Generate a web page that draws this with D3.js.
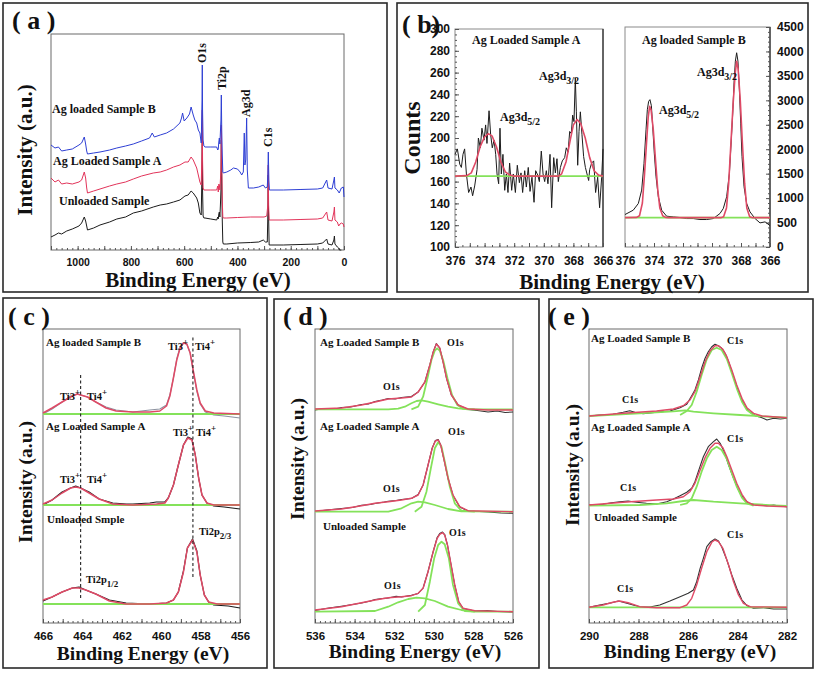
<!DOCTYPE html>
<html><head><meta charset="utf-8">
<script src="https://cdn.jsdelivr.net/npm/d3@7"></script>
<style>body{margin:0;background:#fff}</style>
</head><body>
<script>
// ---------------- DATA ----------------
// (a) survey spectra: [binding energy eV, intensity a.u.]
const aUnloaded = [[1100,13],[1085,15],[1072,17],[1060,16],[1041,19],[1020,21],[995,24],[985,27],[975,33],[970,29],[966,24],[963,20],[940,22],[916,25],[880,28],[853,31],[820,33],[791,37],[760,39],[716,43],[690,45],[666,46],[640,48],[616,50],[597,54],[585,55],[574,59],[566,57],[553,52],[547,47],[541,37],[536,35],[533,80],[532,120],[531,60],[529,34],[526,32],[522,32],[500,31],[478,30],[474,33],[472,31],[470,36],[468,38],[466,33],[464,45],[462,60],[460.6,110],[459,70],[457,30],[455,8],[453,6],[440,6],[400,7],[350,7.5],[320,8],[303,10],[295,8],[288,8],[285.5,40],[284.5,75],[283.5,40],[281,5],[228,5],[165,5.5],[100,6],[80,7],[65,11],[60,6],[45,5],[38,10],[36,14],[34,6],[25,3],[20,2],[17,0],[10,0]];
const aSampleA = [[1100,72],[1085,68],[1072,70],[1060,66],[1041,67],[1020,66],[995,68],[985,70],[975,78],[970,72],[966,62],[963,57],[940,59],[916,61],[880,64],[853,66],[820,68],[791,71],[760,74],[716,77],[690,78],[666,80],[640,83],[616,85],[597,88],[585,88],[574,93],[566,90],[553,82],[547,75],[541,68],[536,65],[533,100],[532,140],[531,90],[529,62],[526,60],[522,60],[500,60],[478,60],[474,64],[472,58],[470,66],[468,65],[466,60],[464,70],[462,80],[460.6,125],[459,90],[457,50],[455,33],[453,32],[440,32],[400,32.5],[350,33],[300,33],[290,34],[286,45],[284.5,85],[283,45],[281,30],[228,30],[165,30.5],[100,31],[80,32],[65,38],[60,30],[45,29],[38,38],[36,43],[34,30],[25,28],[20,24],[15,26],[10,27],[2.5,26],[0,23]];
const aSampleB = [[1100,105],[1085,102],[1072,103],[1060,99],[1041,100],[1020,101],[995,105],[985,107],[975,113],[970,106],[966,99],[963,96],[940,97],[916,98],[880,100],[853,102],[820,104],[791,106],[760,109],[730,112],[720,117],[712,113],[690,115],[666,117],[640,121],[616,127],[610,132],[606,137],[600,129],[590,132],[580,136],[574,143],[566,135],[560,130],[553,127],[547,120],[541,117],[536,107],[533,150],[532,185],[531,140],[529,110],[526,104],[522,103],[500,103],[478,103],[474,100],[472,101],[470,108],[468,112],[466,106],[464,118],[462,130],[460.6,155],[459,120],[457,95],[455,78],[453,77],[440,78],[425,80],[415,82],[400,81],[390,78],[384,75],[378,78],[376,100],[374.4,117],[372,85],[369,90],[365.5,132],[363,80],[359,62],[340,62],[320,63],[303,65],[295,62],[288,63],[286,75],[284.1,98],[282,70],[280,60],[228,60],[165,60.5],[100,61],[80,62],[65,70],[60,62],[45,61],[38,70],[36,73],[34,62],[25,60],[18,57],[10,62],[2.5,63],[0,53]];
const aTicks = [1000,800,600,400,200,0];
const aPeakLabels = [["O1s",532],["Ti2p",459],["Ag3d",368],["C1s",285]];

// (b) Ag3d region: [eV, counts]
const bA_raw = [[376,185],[375.84,190],[375.68,176],[375.57,173],[375.46,185],[375.35,190],[375.23,167],[375.08,150],[374.92,155],[374.81,147],[374.67,156],[374.51,171],[374.42,200],[374.29,191],[374.18,209],[374.04,198],[373.93,212],[373.84,195],[373.7,225],[373.59,203],[373.48,191],[373.36,198],[373.25,185],[373.16,167],[373.05,158],[372.96,209],[372.87,167],[372.76,185],[372.64,152],[372.53,167],[372.42,150],[372.31,177],[372.17,152],[372.06,167],[371.92,150],[371.79,175],[371.65,159],[371.54,168],[371.43,150],[371.29,170],[371.18,155],[371.05,173],[370.93,151],[370.8,164],[370.66,141],[370.55,170],[370.41,166],[370.3,160],[370.17,188],[370.05,167],[369.94,160],[369.83,170],[369.72,158],[369.58,185],[369.47,136],[369.33,182],[369.22,168],[369.11,181],[369.02,160],[368.88,173],[368.75,179],[368.59,182],[368.48,191],[368.36,187],[368.25,206],[368.14,204],[368.05,221],[367.96,215],[367.87,255],[367.8,224],[367.71,175],[367.62,206],[367.53,224],[367.42,203],[367.31,183],[367.19,173],[367.08,167],[366.97,161],[366.9,171],[366.77,177],[366.63,179],[366.5,150],[366.36,164],[366.23,136],[366.09,164],[366,190]];
const bA_fit = [[376,165],[375.2,165.5],[374.9,168],[374.6,178],[374.3,192],[374.0,201],[373.75,204],[373.5,202],[373.2,192],[372.9,178],[372.6,169],[372.3,166],[372,165],[369,165],[368.8,167],[368.5,178],[368.2,199],[368.0,212],[367.75,217],[367.5,213],[367.2,200],[366.9,182],[366.6,170],[366.3,166],[366,165]];
const bA_base = [[376,165],[366,165]];
const bB_raw = [[376,664],[375.43,753],[375.08,890],[374.85,1164],[374.69,1712],[374.55,2397],[374.46,2808],[374.37,2979],[374.28,3014],[374.18,2890],[374.09,2466],[373.98,1918],[373.86,1438],[373.7,1027],[373.47,753],[373.13,630],[372.67,616],[372.21,603],[371.75,582],[371.29,582],[370.83,562],[370.37,562],[369.91,582],[369.45,685],[369.22,788],[368.99,1027],[368.8,1507],[368.67,2192],[368.57,2740],[368.48,3356],[368.39,3801],[368.3,3973],[368.21,3801],[368.11,3219],[368.02,2534],[367.93,1849],[367.79,1233],[367.61,890],[367.38,719],[367.03,582],[366.69,493],[366.34,514],[366,438]];
const bB_fit = [[376,600],[375.2,605],[375.0,640],[374.8,900],[374.65,1500],[374.5,2200],[374.4,2650],[374.3,2880],[374.2,2800],[374.05,2400],[373.9,1800],[373.75,1200],[373.6,800],[373.4,640],[373.2,605],[373,600],[369.4,600],[369.2,620],[369.0,800],[368.85,1300],[368.7,2100],[368.55,2900],[368.4,3550],[368.3,3800],[368.2,3650],[368.05,3000],[367.9,2100],[367.75,1300],[367.6,800],[367.4,620],[367.2,600],[366,600]];
const bB_base = [[376,600],[366,600]];
const bATicks = [300,280,260,240,220,200,180,160,140,120,100];
const bBTicks = [4500,4000,3500,3000,2500,2000,1500,1000,500,0];
const bXTicks = [376,374,372,370,368,366];

// (c) Ti2p region
const cB_raw = [[466,209],[465.54,214],[465.03,221],[464.6,227],[464.26,229],[463.74,226],[463.32,221],[462.8,216],[462.29,213],[461.44,211],[460.58,213],[460.07,214],[459.73,218],[459.56,228],[459.38,245],[459.21,264],[459.04,276],[458.87,280],[458.7,279],[458.53,270],[458.36,250],[458.19,232],[458.02,219],[457.76,211],[457.33,208],[456.8,207],[456,205]];
const cB_fit = [[466,210],[465.54,215],[465.03,221],[464.6,226],[464.26,229],[463.74,226],[463.32,221],[462.8,215],[462.29,212],[461.44,211],[460.58,211],[460.07,212],[459.73,217],[459.56,227],[459.38,245],[459.21,263],[459.04,275],[458.87,280],[458.7,279],[458.53,270],[458.36,251],[458.19,233],[458.02,220],[457.76,212],[457.33,210],[456,209]];
const cB_base = [[466,209],[456,209]];
const cA_raw = [[466,118],[465.54,123],[465.03,131],[464.6,135],[464.34,137],[464.09,135],[463.66,131],[463.15,124],[462.46,120],[461.78,119],[461.44,119],[460.58,120],[460.24,121],[459.81,121],[459.64,125],[459.38,138],[459.13,158],[458.87,178],[458.65,186],[458.44,184],[458.27,168],[458.1,145],[457.93,128],[457.68,120],[457.33,117],[456.8,116],[456,114]];
const cA_fit = [[466,119],[465.54,123],[465.03,130],[464.6,135],[464.34,136],[464.09,135],[463.66,130],[463.15,124],[462.46,119],[461.44,118],[460.24,119],[459.81,120],[459.64,125],[459.38,138],[459.13,158],[458.87,178],[458.65,185],[458.44,183],[458.27,168],[458.1,145],[457.93,128],[457.68,120],[457.33,118],[456,118]];
const cA_base = [[466,118],[456,118]];
const cU_raw = [[466,22],[465.54,26],[465.03,31],[464.51,35],[464.17,36],[463.83,33],[463.32,29],[462.63,23],[461.78,20],[460.58,19],[459.73,20],[459.38,23],[459.13,31],[458.87,52],[458.67,75],[458.41,84],[458.19,72],[458.02,48],[457.81,28],[457.59,21],[457.33,18],[456.6,17],[456,15]];
const cU_fit = [[466,23],[465.54,26],[465.03,31],[464.51,35],[464.17,35],[463.83,33],[463.32,29],[462.63,22],[461.78,19],[460.58,19],[459.73,20],[459.38,23],[459.13,31],[458.87,51],[458.67,75],[458.41,83],[458.19,71],[458.02,48],[457.81,28],[457.59,21],[457.16,19],[456,19]];
const cU_base = [[466,19],[456,19]];
const cDashes = [[464.09,25,250],[458.39,46,288]];
const cXTicks = [466,464,462,460,458,456];

// (d) O1s region
const dB_raw = [[536,213],[535.5,214.5],[535,214],[534.66,215.5],[534.2,216],[533.65,218.5],[533.3,219],[532.97,221.5],[532.6,223],[532.3,224.5],[531.95,224],[531.63,225.5],[531.13,226.5],[530.79,231],[530.45,241],[530.2,258],[530.03,271],[529.87,279.5],[529.7,275],[529.53,261],[529.36,245],[529.11,228],[528.77,218],[528.27,213.5],[527.8,212.5],[527.26,211],[526.8,212],[526.4,210.5],[526,211]];
const dB_fit = [[536,214],[534.66,215],[533.65,218],[532.97,221],[532.3,224],[531.63,225],[531.13,226],[530.79,231],[530.45,241],[530.2,258],[530.03,271],[529.87,279],[529.7,275],[529.53,261],[529.36,245],[529.11,228],[528.77,218],[528.27,214],[527.26,213],[526,213]];
const dB_c1 = [[536,213.7],[532.3,213.7],[531.8,214.3],[531.46,216.3],[531.13,219.7],[530.87,222],[530.62,222.7],[530.29,221.3],[529.78,218.7],[529.28,216.3],[528.77,214.7],[528.27,213.7],[526,213.7]];
const dB_c2 = [[531.13,213.7],[530.79,216.3],[530.54,226.3],[530.32,244.7],[530.12,263],[529.95,272.3],[529.83,274.7],[529.7,272.3],[529.53,263],[529.31,244.7],[529.08,228],[528.81,218],[528.52,214.3],[527.93,213.7]];
const dA_raw = [[536,111.5],[535.4,113],[534.66,114.5],[534.1,115.5],[533.65,117.8],[533.2,118.5],[532.97,119.5],[532.5,121],[532.3,121.8],[531.9,122.5],[531.63,123.5],[531.13,124.5],[530.79,128.5],[530.54,138],[530.29,158],[530.08,175],[529.92,182.5],[529.78,183.5],[529.65,178],[529.48,163],[529.28,144.5],[529.03,127.5],[528.69,116],[528.27,112],[527.7,111.5],[527.26,111],[526.6,110],[526,109.7]];
const dA_fit = [[536,112],[534.66,114],[533.65,117.3],[532.97,119.7],[532.3,121.3],[531.63,123],[531.13,124.7],[530.79,128],[530.54,138],[530.29,158],[530.08,174.7],[529.92,182],[529.78,183],[529.65,178],[529.48,163],[529.28,144.7],[529.03,128],[528.69,116.3],[528.27,112.3],[526,111.3]];
const dA_c1 = [[536,111.3],[532.3,111.3],[531.63,114.7],[531.13,119.7],[530.79,121.3],[530.45,120.7],[529.95,118],[529.28,114],[528.61,111.7],[526,111.3]];
const dA_c2 = [[530.96,111.3],[530.62,116.3],[530.37,131.3],[530.15,154.7],[529.95,174.7],[529.78,180.7],[529.61,176.3],[529.41,158],[529.19,136.3],[528.94,119.7],[528.61,112.3],[527.93,111.3]];
const dU_raw = [[536,12.5],[535.3,15],[534.66,16.8],[534.1,18.5],[533.65,20],[533.2,22],[532.97,23.5],[532.6,24.5],[532.3,25],[531.9,26.8],[531.63,26],[531.13,27.8],[530.79,29.5],[530.54,35],[530.29,51.5],[530.03,71.5],[529.83,85.5],[529.7,89.5],[529.56,91],[529.45,88.5],[529.31,78],[529.14,59.5],[528.94,37.5],[528.74,21],[528.52,14.5],[527.93,12],[527.3,12.5],[526.8,11.5],[526,11]];
const dU_fit = [[536,13],[534.66,16.3],[533.65,20.3],[532.97,23],[532.3,25.3],[531.63,26.3],[531.13,27.3],[530.79,29.7],[530.54,34.7],[530.29,51.3],[530.03,71.3],[529.83,84.7],[529.7,88.7],[529.56,90.3],[529.45,88],[529.31,78],[529.14,59.7],[528.94,38],[528.74,21.3],[528.52,14.7],[527.93,12.3],[526,11.3]];
const dU_c1 = [[536,11.3],[532.97,12],[532.3,16.3],[531.8,20.7],[531.29,24],[530.87,25.3],[530.45,24.7],[529.95,22],[529.28,16.3],[528.61,13],[527.93,11.3],[526,11.3]];
const dU_c2 = [[530.79,11.3],[530.45,18],[530.2,41.3],[529.98,64.7],[529.78,78],[529.61,81.3],[529.45,78.7],[529.24,64.7],[529.03,38],[528.77,19.7],[528.44,12],[527.93,11.3]];
const dXTicks = [536,534,532,530,528,526];

// (e) C1s region
const eB_raw = [[290,207],[289.57,208],[289.03,208.7],[288.62,210.7],[288.35,212.3],[288.15,210.7],[287.81,209.3],[287.27,210.7],[286.73,212],[286.32,215.3],[286.05,218.7],[285.85,227.3],[285.72,233],[285.58,243],[285.45,254.7],[285.31,264.7],[285.18,271.3],[285.04,276.3],[284.91,278.7],[284.77,277.3],[284.64,274.7],[284.5,269.7],[284.36,261.3],[284.16,246.3],[283.96,231.3],[283.76,219.7],[283.55,212],[283.28,207.3],[283.01,205.3],[282.81,203],[282.54,204.7],[282.27,204],[282,204.7]];
const eB_fit = [[290,207],[288.62,209.7],[287.27,212],[286.59,214],[286.19,217.3],[285.92,223],[285.72,231.3],[285.51,246.3],[285.31,261.3],[285.11,272],[284.91,277.3],[284.77,277.3],[284.59,273.7],[284.43,266.3],[284.23,253],[284.03,238],[283.82,224.7],[283.62,215.3],[283.35,209.7],[283.01,207],[282,205.3]];
const eB_c1 = [[290,207],[287.95,209.7],[286.59,211.7],[286.12,212.7],[285.78,211.3],[284.97,209.7],[283.89,208],[282.54,206],[282,205.3]];
const eB_c2 = [[286.32,208],[286.05,212],[285.85,218],[285.65,231.3],[285.45,248],[285.24,264],[285.04,273],[284.84,275.3],[284.64,273],[284.43,264],[284.23,249.7],[284.03,234.7],[283.82,221.3],[283.62,213],[283.35,208],[283.08,206]];
const eA_raw = [[290,118],[289.43,118.7],[289.09,120.3],[288.76,121.3],[288.42,122],[288.08,120.7],[287.68,119.7],[287.27,119],[286.86,121.3],[286.59,124],[286.32,127.3],[286.05,130.7],[285.85,134.7],[285.72,141.3],[285.54,154.7],[285.38,166.3],[285.18,176.3],[284.97,181.3],[284.84,184],[284.7,179.7],[284.54,171.3],[284.36,158],[284.16,144.7],[283.96,133],[283.76,124.7],[283.55,119.7],[283.22,118],[282.81,117.3],[282.54,118],[282.27,116.7],[282,116.3]];
const eA_fit = [[290,118],[288.62,120.7],[287.27,123],[286.59,124],[286.19,126.3],[285.92,131.3],[285.72,139.7],[285.51,153],[285.31,165.3],[285.11,174.7],[284.91,179.7],[284.77,179.7],[284.59,175.3],[284.43,166.3],[284.23,153],[284.03,139.7],[283.82,128.7],[283.62,121.3],[283.35,118],[282.81,117],[282,116.3]];
const eA_c1 = [[290,117.3],[287.95,118],[286.86,119.7],[286.19,122],[285.78,123],[284.97,121.3],[283.89,119.7],[282.54,117.7],[282,117]];
const eA_c2 = [[286.32,118],[286.05,119.7],[285.85,124.7],[285.65,136.3],[285.45,151.3],[285.24,164.7],[285.04,173],[284.84,176.3],[284.64,173],[284.43,164],[284.23,149.7],[284.03,136.3],[283.82,125.3],[283.62,119.7],[283.35,117.3]];
const eU_raw = [[290,15.7],[289.57,18],[289.09,20.3],[288.82,22],[288.62,20.7],[288.22,18],[287.95,16.3],[287.54,16],[287.14,18],[286.73,22],[286.32,26.3],[285.99,29.7],[285.78,33],[285.65,41.3],[285.51,54.7],[285.38,64.7],[285.24,76.3],[285.08,81.3],[284.91,84],[284.77,82],[284.64,76.3],[284.43,63],[284.23,48],[284.03,34.7],[283.82,23],[283.62,17.3],[283.35,14.7],[282.95,15.3],[282.54,14],[282,14]];
const eU_fit = [[290,15.7],[289.43,18],[289.03,20.7],[288.76,22],[288.42,20.3],[287.95,16.3],[287.27,15.3],[286.32,15.3],[286.05,18],[285.85,24.7],[285.65,38],[285.45,54.7],[285.24,71.3],[285.04,80.7],[284.91,83],[284.77,81.3],[284.59,74.7],[284.36,58],[284.16,41.3],[283.96,28],[283.76,19.7],[283.49,16.3],[282,15.7]];
const eU_base = [[290,15.7],[282,15.7]];
const eXTicks = [290,288,286,284,282];

// ---------------- DRAWING ----------------
const SERIF = "Liberation Serif, Times New Roman, DejaVu Serif, serif";
const SANS = "Liberation Sans, Arial, sans-serif";
const BLUE = "#2e3fd4", RED = "#e2345a", FIT = "#df4a66", GREEN = "#84e25a", BLACK = "#1c1c1c";

const svg = d3.select("body").append("svg").attr("width",817).attr("height",673)
  .attr("font-family",SERIF);
svg.append("rect").attr("width",817).attr("height",673).attr("fill","#fff");

function frame(x0,y0,x1,y1){
  svg.append("rect").attr("x",x0).attr("y",y0).attr("width",x1-x0).attr("height",y1-y0)
    .attr("fill","none").attr("stroke","#2a2a2a").attr("stroke-width",1.6);
}
function box(x,y,color){
  const xr=x.range(), yr=y.range();
  svg.append("rect").attr("x",Math.min(...xr)).attr("y",Math.min(...yr))
    .attr("width",Math.abs(xr[1]-xr[0])).attr("height",Math.abs(yr[1]-yr[0]))
    .attr("fill","none").attr("stroke",color||"#707070").attr("stroke-width",1);
}
function styleAxis(g,fs){
  g.select(".domain").remove();
  g.attr("font-family",SANS).attr("font-size",fs).attr("font-weight","bold");
  g.selectAll("line").attr("stroke","#555");
  g.selectAll("text").attr("fill","#111");
}
function xAxis(x,yPos,minors,majors,labels,fs,pad){
  styleAxis(svg.append("g").attr("transform",`translate(0,${yPos})`)
    .call(d3.axisBottom(x).tickValues(minors).tickSize(-2).tickFormat("")),fs);
  styleAxis(svg.append("g").attr("transform",`translate(0,${yPos})`)
    .call(d3.axisBottom(x).tickValues(majors).tickSize(-4).tickFormat("")),fs);
  styleAxis(svg.append("g").attr("transform",`translate(0,${yPos})`)
    .call(d3.axisBottom(x).tickValues(labels).tickSize(0).tickPadding(pad).tickFormat(d3.format("d"))),fs);
}
function range(a,b,s){const r=[];for(let v=a;v<=b+1e-9;v+=s)r.push(+v.toFixed(4));return r;}
function line(data,x,y,color,w){
  svg.append("path").datum(data).attr("fill","none").attr("stroke",color)
    .attr("stroke-width",w).attr("stroke-linejoin","round")
    .attr("d",d3.line().x(d=>x(d[0])).y(d=>y(d[1])));
}
function text(x,y,s,fs,opt={}){
  return svg.append("text").attr("x",x).attr("y",y).text(s)
    .attr("font-family",SERIF)
    .attr("font-size",fs).attr("font-weight","bold").attr("fill","#111")
    .attr("text-anchor",opt.anchor||"start");
}
function scriptText(x,y,main,script,fs,sfs,dy){
  const t=svg.append("text").attr("x",x).attr("y",y).attr("font-size",fs)
    .attr("font-family",SERIF).attr("font-weight","bold").attr("fill","#111");
  t.append("tspan").text(main);
  t.append("tspan").attr("dy",dy).attr("font-size",sfs).text(script);
}
function vText(cx,cy,s,fs,anchor){
  svg.append("text").attr("transform",`translate(${cx+fs*0.34},${cy}) rotate(-90)`)
    .attr("font-family",SERIF)
    .attr("text-anchor",anchor||"middle").attr("font-size",fs).attr("font-weight","bold")
    .attr("fill","#111").text(s);
}

// ---- frames
frame(3,3,387,292);
frame(397,3,808,292);
frame(3,298,267,668);
frame(274,299,539,668);
frame(549,299,813,668);

// ---- panel (a)
{
  const x=d3.scaleLinear().domain([1100,0]).range([51,344]);
  const y=d3.scaleLinear().domain([0,216]).range([250,34]);
  box(x,y,"#6a6a6a");
  xAxis(x,250,range(0,1100,20),range(0,1100,100),aTicks,10.5,9);
  line(aUnloaded,x,y,BLACK,1);
  line(aSampleA,x,y,RED,1);
  line(aSampleB,x,y,BLUE,1);
  text(12,29,"( a )",26);
  vText(25,150,"Intensity (a.u.)",21);
  text(198,287,"Binding Energy (eV)",21,{anchor:"middle"});
  text(52,113,"Ag loaded Sample B",12);
  text(53,165,"Ag Loaded Sample A",12);
  text(59,205,"Unloaded Sample",12);
  const yTop={O1s:63,Ti2p:90,Ag3d:117,C1s:147};
  aPeakLabels.forEach(([s,e])=>vText(x(e),yTop[s],s,12,"start"));
}

// ---- panel (b)
{
  const x1=d3.scaleLinear().domain([376,366]).range([455,603]);
  const y1=d3.scaleLinear().domain([100,300]).range([247,29]);
  const x2=d3.scaleLinear().domain([376,366]).range([625,770]);
  const y2=d3.scaleLinear().domain([0,4500]).range([247,27]);
  box(x1,y1,"#8a8a8a"); box(x2,y2,"#8a8a8a");
  svg.append("line").attr("x1",603).attr("x2",603).attr("y1",29).attr("y2",247).attr("stroke","#444").attr("stroke-width",1.5);
  svg.append("line").attr("x1",770).attr("x2",770).attr("y1",27).attr("y2",247).attr("stroke","#444").attr("stroke-width",1.5);
  xAxis(x1,247,range(366,376,0.5),range(366,376,1),bXTicks,12,9);
  xAxis(x2,247,range(366,376,0.5),range(366,376,1),bXTicks,12,9);
  styleAxis(svg.append("g").attr("transform","translate(455,0)")
    .call(d3.axisLeft(y1).tickValues(range(100,300,5)).tickSize(-2).tickFormat("")),12);
  styleAxis(svg.append("g").attr("transform","translate(455,0)")
    .call(d3.axisLeft(y1).tickValues(bATicks).tickSize(-4).tickPadding(5).tickFormat(d3.format("d"))),12);
  styleAxis(svg.append("g").attr("transform","translate(770,0)")
    .call(d3.axisRight(y2).tickValues(range(0,4500,100)).tickSize(-2).tickFormat("")),12);
  styleAxis(svg.append("g").attr("transform","translate(770,0)")
    .call(d3.axisRight(y2).tickValues(bBTicks).tickSize(-4).tickPadding(7).tickFormat(d3.format("d"))),12);
  line(bA_raw,x1,y1,BLACK,1);
  line(bA_base,x1,y1,GREEN,1.8);
  line(bA_fit,x1,y1,FIT,1.6);
  line(bB_raw,x2,y2,BLACK,1);
  line(bB_base,x2,y2,GREEN,1.8);
  line(bB_fit,x2,y2,FIT,1.6);
  text(402,33,"( b)",26);
  text(472,44,"Ag Loaded Sample A",12);
  text(642,44,"Ag loaded Sample B",12);
  scriptText(500,121,"Ag3d","5/2",12,10,4);
  scriptText(539,80,"Ag3d","3/2",12,10,4);
  scriptText(659,114,"Ag3d","5/2",12,10,4);
  scriptText(697,76,"Ag3d","3/2",12,10,4);
  vText(412,138,"Counts",24);
  text(612,289,"Binding Energy (eV)",21,{anchor:"middle"});
}

// ---- panel (c)
{
  const x=d3.scaleLinear().domain([466,456]).range([43,240]);
  const y=d3.scaleLinear().domain([0,294]).range([623,329]);
  box(x,y,"#6a6a6a");
  xAxis(x,623,range(456,466,0.25),range(456,466,1),cXTicks,11.5,9);
  [[cB_raw,"#8d93a0",cB_base,cB_fit],[cA_raw,BLACK,cA_base,cA_fit],[cU_raw,BLACK,cU_base,cU_fit]]
    .forEach(([r,rc,b,f])=>{ line(r,x,y,rc,1.2); line(b,x,y,GREEN,2); line(f,x,y,FIT,1.5); });
  cDashes.forEach(([e,v0,v1])=>svg.append("line").attr("x1",x(e)).attr("x2",x(e))
    .attr("y1",y(v0)).attr("y2",y(v1)).attr("stroke","#222").attr("stroke-width",1.1).attr("stroke-dasharray","3,2.5"));
  text(8,325,"( c )",26);
  vText(25,482,"Intensity (a.u.)",19.5);
  text(143,660,"Binding Energy (eV)",19.5,{anchor:"middle"});
  text(46,346,"Ag loaded Sample B",11);
  text(46,430,"Ag Loaded Sample A",11);
  text(47,523,"Unloaded Smple",11);
  scriptText(60,400,"Ti3","+",10.5,9,-5);
  scriptText(87,400,"Ti4","+",10.5,9,-5);
  scriptText(168,350,"Ti3","+",10.5,9,-5);
  scriptText(195,350,"Ti4","+",10.5,9,-5);
  scriptText(60,483,"Ti3","+",10.5,9,-5);
  scriptText(87,483,"Ti4","+",10.5,9,-5);
  scriptText(173,436,"Ti3","+",10.5,9,-5);
  scriptText(196,436,"Ti4","+",10.5,9,-5);
  scriptText(86,583,"Ti2p","1/2",10.5,9,4);
  scriptText(199,535,"Ti2p","2/3",10.5,9,4);
}

// ---- panel (d)
{
  const x=d3.scaleLinear().domain([536,526]).range([315,513]);
  const y=d3.scaleLinear().domain([0,294]).range([623,329]);
  box(x,y,"#6a6a6a");
  xAxis(x,623,range(526,536,0.25),range(526,536,1),dXTicks,11.5,9);
  [[dB_raw,dB_c1,dB_c2,dB_fit],[dA_raw,dA_c1,dA_c2,dA_fit],[dU_raw,dU_c1,dU_c2,dU_fit]]
    .forEach(([r,c1,c2,f])=>{ line(r,x,y,"#333",1.1); line(c1,x,y,GREEN,1.8); line(c2,x,y,GREEN,1.8); line(f,x,y,FIT,1.4); });
  text(283,325,"( d )",26);
  vText(297,459,"Intensity (a.u.)",19.5);
  text(415,658,"Binding Energy (eV)",19.5,{anchor:"middle"});
  text(320,346,"Ag Loaded Sample B",11);
  text(320,430,"Ag Loaded Sample A",11);
  text(323,530,"Unloaded Sample",11);
  text(447,346,"O1s",10); text(383,390,"O1s",10);
  text(448,435,"O1s",10); text(383,492,"O1s",10);
  text(449,536,"O1s",10); text(384,589,"O1s",10);
}

// ---- panel (e)
{
  const x=d3.scaleLinear().domain([290,282]).range([589,787]);
  const y=d3.scaleLinear().domain([0,294]).range([623,329]);
  box(x,y,"#6a6a6a");
  xAxis(x,623,range(282,290,0.2),range(282,290,1),eXTicks,11.5,9);
  line(eB_raw,x,y,"#333",1.1); line(eB_c1,x,y,GREEN,1.8); line(eB_c2,x,y,GREEN,1.8); line(eB_fit,x,y,FIT,1.4);
  line(eA_raw,x,y,"#333",1.1); line(eA_c1,x,y,GREEN,1.8); line(eA_c2,x,y,GREEN,1.8); line(eA_fit,x,y,FIT,1.4);
  line(eU_raw,x,y,"#333",1.1); line(eU_base,x,y,GREEN,1.8); line(eU_fit,x,y,FIT,1.4);
  text(548,325,"( e )",26);
  vText(572,465,"Intensity (a.u.)",19.5);
  text(690,658,"Binding Energy (eV)",19.5,{anchor:"middle"});
  text(591,342,"Ag Loaded Sample B",11);
  text(591,431,"Ag Loaded Sample A",11);
  text(594,521,"Unloaded Sample",11);
  text(727,344,"C1s",10); text(622,403,"C1s",10);
  text(727,442,"C1s",10); text(620,491,"C1s",10);
  text(727,538,"C1s",10); text(617,592,"C1s",10);
}
</script>
</body></html>
